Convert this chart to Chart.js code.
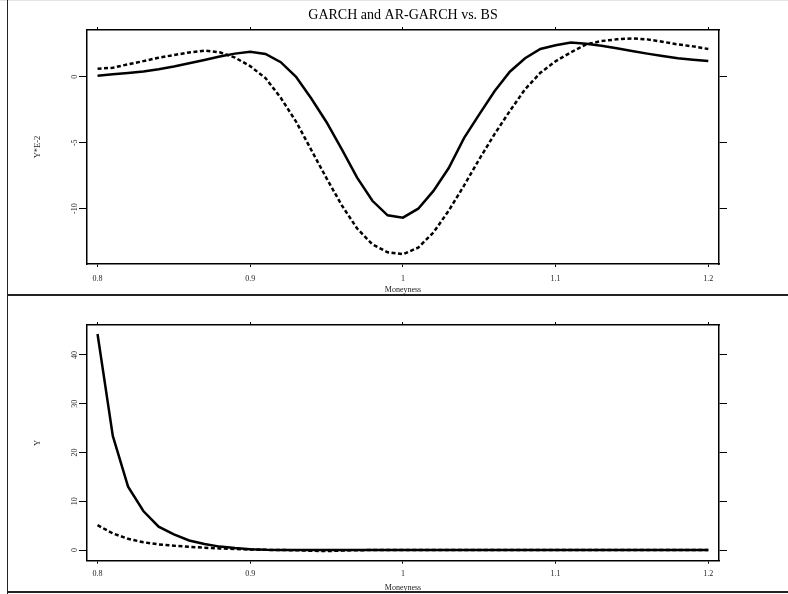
<!DOCTYPE html>
<html>
<head>
<meta charset="utf-8">
<script src="https://cdn.jsdelivr.net/npm/chart.js@4.4.1/dist/chart.umd.min.js"></script>
<style>
  body { margin: 0; background: #fff; }
  #wrap { position: relative; width: 788px; height: 594px; overflow: hidden; }
  canvas { position: absolute; left: 0; }
  #topChart { top: 0; }
  #bottomChart { top: 295px; }
  .rule { position: absolute; background: #222; }
</style>
</head>
<body>
<div id="wrap">
  <canvas id="topChart" width="788" height="295"></canvas>
  <canvas id="bottomChart" width="788" height="299"></canvas>
  <div class="rule" style="left:0;top:0;width:788px;height:1px;background:#e4e4e4"></div>
  <div class="rule" style="left:7px;top:0;width:1px;height:594px"></div>
  <div class="rule" style="left:7px;top:294px;width:781px;height:2px"></div>
  <div class="rule" style="left:7px;top:591px;width:781px;height:2px"></div>
</div>
<script>
const moneyness = [
  0.8, 0.81, 0.82, 0.83, 0.84, 0.85, 0.86, 0.87, 0.88, 0.89,
  0.9, 0.91, 0.92, 0.93, 0.94, 0.95, 0.96, 0.97, 0.98, 0.99,
  1.0, 1.01, 1.02, 1.03, 1.04, 1.05, 1.06, 1.07, 1.08, 1.09,
  1.1, 1.11, 1.12, 1.13, 1.14, 1.15, 1.16, 1.17, 1.18, 1.19, 1.2
];
const xTicks = [0.8, 0.9, 1, 1.1, 1.2];
const topYTicks = [-10, -5, 0];
const bottomYTicks = [0, 10, 20, 30, 40];

// upper panel, values in units of 1E-2
const garchTop = [
  0.08, 0.18, 0.28, 0.4, 0.57, 0.77, 1.02, 1.27, 1.53, 1.75,
  1.9, 1.73, 1.1, 0.0, -1.65, -3.45, -5.5, -7.65, -9.4, -10.5,
  -10.68, -10.0, -8.65, -6.92, -4.65, -2.85, -1.1, 0.38, 1.4, 2.1,
  2.38, 2.6, 2.5, 2.35, 2.15, 1.95, 1.75, 1.57, 1.4, 1.29, 1.2
];
const arGarchTop = [
  0.6, 0.68, 0.94, 1.18, 1.44, 1.64, 1.84, 1.98, 1.85, 1.45,
  0.8, -0.1, -1.6, -3.4, -5.55, -7.7, -9.75, -11.5, -12.7, -13.3,
  -13.45, -12.95, -11.8, -10.15, -8.25, -6.25, -4.35, -2.6, -0.95, 0.3,
  1.17, 1.85, 2.45, 2.7, 2.83, 2.9, 2.83, 2.65, 2.45, 2.3, 2.1
];

// lower panel
const garchBottom = [
  44.3, 23.4, 13.0, 8.0, 4.8, 3.2, 1.95, 1.25, 0.7, 0.4,
  0.18, 0.06, 0.02, 0.01, 0, 0, 0, 0, 0, 0,
  0, 0, 0, 0, 0, 0, 0, 0, 0, 0,
  0, 0, 0, 0, 0, 0, 0, 0, 0, 0, 0
];
const arGarchBottom = [
  5.1, 3.4, 2.3, 1.6, 1.15, 0.88, 0.66, 0.47, 0.32, 0.2,
  0.1, 0.04, 0.0, -0.05, -0.15, -0.22, -0.12, -0.04, 0, 0,
  0, 0, 0, 0, 0, 0, 0, 0, 0, 0,
  0, 0, 0, 0, 0, 0, 0, 0, 0, 0, 0
];

Chart.defaults.font.family = '"Liberation Serif", "Times New Roman", serif';
Chart.defaults.color = '#222';

const X_MIN = 0.7931;
const X_MAX = 1.207;

function toPoints(values) {
  return moneyness.map((m, i) => ({ x: m, y: values[i] }));
}

function setTicks(list) {
  return (scale) => {
    scale.ticks = list.map((v) => ({ value: v }));
  };
}

function makePanel(id, cfg) {
  const lineColor = '#000';
  const labelFont = { size: 8 };

  return new Chart(document.getElementById(id), {
    type: 'line',
    data: {
      datasets: [
        {
          label: 'GARCH',
          data: toPoints(cfg.solid),
          borderColor: lineColor,
          borderWidth: 2.5,
          pointRadius: 0,
          tension: 0,
          fill: false,
        },
        {
          label: 'AR-GARCH',
          data: toPoints(cfg.dashed),
          borderColor: lineColor,
          borderWidth: 2.5,
          borderDash: [4, 2.5],
          pointRadius: 0,
          tension: 0,
          fill: false,
        },
      ],
    },
    options: {
      responsive: false,
      animation: false,
      devicePixelRatio: 1,
      layout: { padding: 0 },
      plugins: {
        legend: { display: false },
        tooltip: { enabled: false },
        title: {
          display: !!cfg.title,
          text: cfg.title || '',
          fullSize: false,
          color: '#000',
          font: { size: 14, weight: 'normal' },
          padding: { top: 7, bottom: 0 },
        },
      },
      scales: {
        x: {
          type: 'linear',
          position: 'bottom',
          min: X_MIN,
          max: X_MAX,
          afterBuildTicks: setTicks(xTicks),
          afterFit: (s) => { s.height = cfg.bottomHeight; },
          grid: { drawOnChartArea: false, tickLength: 3, tickColor: lineColor, tickWidth: 1 },
          border: { color: lineColor, width: 1.5 },
          ticks: {
            font: labelFont,
            padding: cfg.xLabelPad,
            maxRotation: 0,
            autoSkip: false,
            callback: (v) => String(v),
          },
          title: {
            display: true,
            text: 'Moneyness',
            font: labelFont,
            padding: { top: 0, bottom: cfg.xTitlePad },
          },
        },
        x2: {
          type: 'linear',
          axis: 'x',
          position: 'top',
          min: X_MIN,
          max: X_MAX,
          afterBuildTicks: setTicks(xTicks),
          afterFit: (s) => { s.height = cfg.topHeight; },
          grid: { drawOnChartArea: false, tickLength: 3, tickColor: lineColor, tickWidth: 1 },
          border: { color: lineColor, width: 1.5 },
          ticks: { display: false },
        },
        y: {
          type: 'linear',
          position: 'left',
          min: cfg.yMin,
          max: cfg.yMax,
          afterBuildTicks: setTicks(cfg.yTicks),
          afterFit: (s) => { s.width = 87; },
          grid: { drawOnChartArea: false, tickLength: 8, tickColor: lineColor, tickWidth: 1 },
          border: { color: lineColor, width: 1.5 },
          ticks: {
            font: labelFont,
            minRotation: 90,
            maxRotation: 90,
            crossAlign: 'center',
            padding: cfg.yLabelPad,
            callback: (v) => String(v),
          },
          title: {
            display: true,
            text: cfg.yTitle,
            font: { size: 8.5 },
            padding: { top: 33, bottom: 0 },
          },
        },
        y2: {
          type: 'linear',
          axis: 'y',
          position: 'right',
          min: cfg.yMin,
          max: cfg.yMax,
          afterBuildTicks: setTicks(cfg.yTicks),
          afterFit: (s) => { s.width = 69; },
          grid: { drawOnChartArea: false, tickLength: 8, tickColor: lineColor, tickWidth: 1 },
          border: { color: lineColor, width: 1.5 },
          ticks: { display: false },
        },
      },
    },
  });
}

makePanel('topChart', {
  title: 'GARCH and AR-GARCH vs. BS',
  solid: garchTop,
  dashed: arGarchTop,
  yMin: -14.19,
  yMax: 3.54,
  yTicks: topYTicks,
  yTitle: 'Y*E-2',
  topHeight: 6.2,
  bottomHeight: 31,
  xLabelPad: 7,
  xTitlePad: 0.2,
  yLabelPad: -1.3,
});

makePanel('bottomChart', {
  title: '',
  solid: garchBottom,
  dashed: arGarchBottom,
  yMin: -2.19,
  yMax: 46.15,
  yTicks: bottomYTicks,
  yTitle: 'Y',
  topHeight: 30,
  bottomHeight: 33.3,
  xLabelPad: 5.3,
  xTitlePad: 1.2,
  yLabelPad: 0,
});
</script>
</body>
</html>
